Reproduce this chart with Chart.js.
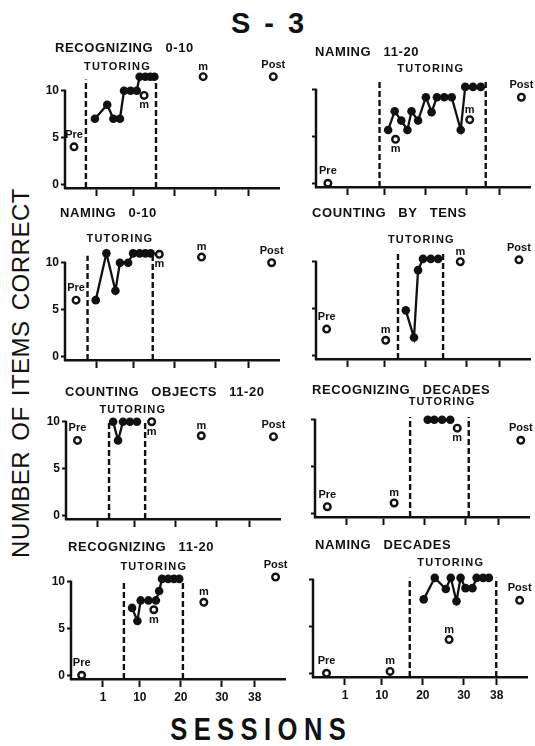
<!DOCTYPE html>
<html>
<head>
<meta charset="utf-8">
<title>S-3</title>
<script src="https://cdn.jsdelivr.net/npm/chart.js@4.4.1/dist/chart.umd.min.js"></script>
<style>
  html, body { margin: 0; padding: 0; background: #fff; }
  body { position: relative; width: 535px; height: 746px; overflow: hidden; font-family: 'Liberation Sans', Arial, sans-serif; color: #111; }
  canvas { position: absolute; }
  #heading { position: absolute; left: 0; width: 535px; top: 9px; text-align: center; font-weight: bold; font-size: 29px; line-height: 29px; letter-spacing: 3px; padding-left: 3px; box-sizing: border-box; }
  #ylabel { position: absolute; left: 21px; top: 373px; width: 440px; height: 24px; margin-left: -220px; margin-top: -12px; line-height: 24px; font-size: 24px; text-align: center; white-space: nowrap; letter-spacing: 0.5px; word-spacing: 3px; transform: rotate(-90deg); }
  #xlabel { position: absolute; left: 258px; top: 713px; width: 300px; margin-left: -150px; text-align: center; font-weight: bold; font-size: 32px; line-height: 32px; letter-spacing: 8px; padding-left: 8px; box-sizing: border-box; transform: scaleX(0.8); }
</style>
</head>
<body>
<div id="heading">S - 3</div>
<div id="ylabel">NUMBER OF ITEMS CORRECT</div>
<div id="xlabel">SESSIONS</div>
<script>
const ink = '#111';
const FONT = "'Liberation Sans', Arial, sans-serif";

// axis ticks shared by every panel
const sessionTicks = [1, 10, 20, 30, 38];
const scoreTicks = [0, 5, 10];

// panels in reading order: left/right, top to bottom
const panelTitles = [
    'RECOGNIZING 0-10', 'NAMING 11-20',
    'NAMING 0-10', 'COUNTING BY TENS',
    'COUNTING OBJECTS 11-20', 'RECOGNIZING DECADES',
    'RECOGNIZING 11-20', 'NAMING DECADES'
];

// tutoring sessions (filled dots joined by a line)
const tutorSessions = [
    [0.5, 3.5, 5.0, 6.6, 7.6, 9.2, 10.7, 11.4, 12.8, 14.0, 15.0],
    [10.8, 12.4, 14.0, 15.5, 16.5, 18.1, 20.0, 21.4, 22.7, 24.5, 26.3, 28.5, 29.6, 31.5, 33.4],
    [0.7, 3.3, 5.5, 6.6, 8.6, 9.8, 11.4, 12.8, 14.1],
    [15.1, 17.1, 18.1, 19.3, 21.2, 23.0],
    [4.7, 5.9, 7.1, 8.8, 10.5],
    [20.7, 22.3, 24.2, 26.2],
    [8.1, 9.4, 10.2, 12.1, 13.9, 14.7, 15.4, 16.9, 18.3, 19.6],
    [20.2, 22.9, 25.6, 26.8, 28.2, 29.2, 30.4, 32.1, 33.1, 34.7, 36.1]
];
const tutorScores = [
    [7, 8.5, 7, 7, 10, 10, 10, 11.5, 11.5, 11.5, 11.5],
    [5.7, 7.7, 6.7, 5.7, 7.7, 6.7, 9.2, 7.6, 9.2, 9.2, 9.2, 5.7, 10.3, 10.3, 10.3],
    [6, 11, 7, 10, 10, 11, 11, 11, 11],
    [4.8, 1.9, 9.1, 10.3, 10.3, 10.3],
    [10, 8, 10, 10, 10],
    [10, 10, 10, 10],
    [7.2, 5.8, 8, 8, 8, 9, 10.3, 10.3, 10.3, 10.3],
    [7.9, 10.2, 9, 10.2, 7.7, 10.2, 9.1, 9.1, 10.2, 10.2, 10.2]
];

// probes: pretest, two maintenance checks, posttest (open circles)
const probeNames = ['Pre', 'm', 'm', 'Post'];
const probeSessions = [
    [-4.6, 12.5, 26.9, 44.0],
    [-3.9, 12.6, 30.7, 43.3],
    [-4.1, 16.2, 26.5, 43.6],
    [-4.2, 10.2, 28.4, 42.7],
    [-4.0, 14.1, 26.2, 43.8],
    [-3.8, 12.5, 27.9, 43.4],
    [-4.2, 13.4, 25.6, 43.1],
    [-3.5, 12.0, 26.4, 43.6]
];
const probeScores = [
    [4, 9.5, 11.5, 11.5],
    [0, 4.7, 6.8, 9.2],
    [6, 10.9, 10.6, 10],
    [2.8, 1.6, 10, 10.2],
    [8, 10, 8.5, 8.4],
    [0.7, 1.1, 9.1, 7.8],
    [0, 7, 7.8, 10.5],
    [0, 0.2, 3.6, 7.8]
];

// tutoring phase limits (dashed lines)
const phaseStart = [-1.7, 8.7, -1.3, 13.2, 3.7, 16.4, 6.1, 16.8];
const phaseEnd = [15.4, 34.6, 14.6, 24.2, 12.5, 30.7, 20.5, 37.9];

// page layout of each panel: axis = left edge of plot, zero = pixel row of score 0
const boxes = [
    {axis: 65, zero: 184, titleX: 55, titleUp: 136, dashTop: 11.2, tutorAt: [6.0, 12.5], below: [1]},
    {axis: 316, zero: 183, titleX: 315, titleUp: 131, dashTop: 10.9, tutorAt: [21.2, 12.2], below: [1]},
    {axis: 65, zero: 356, titleX: 60, titleUp: 143, dashTop: 10.75, tutorAt: [6.6, 12.5], below: [1]},
    {axis: 316, zero: 355, titleX: 312, titleUp: 142, dashTop: 11.1, tutorAt: [18.9, 12.3], below: []},
    {axis: 66, zero: 515, titleX: 65, titleUp: 123, dashTop: 9.9, tutorAt: [9.5, 11.3], below: [1]},
    {axis: 315, zero: 513, titleX: 312, titleUp: 123, dashTop: 10.3, tutorAt: [24.2, 11.9], below: [2]},
    {axis: 71, zero: 675, titleX: 68, titleUp: 128, dashTop: 10, tutorAt: [13.4, 11.6], below: [1]},
    {axis: 313, zero: 673, titleX: 315, titleUp: 128, dashTop: 10.2, tutorAt: [26.8, 11.8], below: []}
];

const X_MIN = -6.8, X_MAX = 45.4, Y_MIN = -0.4, Y_MAX = 12;
const CW = 252, CH = 184, PAD_TOP = 40, Y_W = 30, X_H = 28, PLOT_W = 214;
const zeroOffset = PAD_TOP + Y_MAX * (CH - PAD_TOP - X_H) / (Y_MAX - Y_MIN);

// y axis line, text labels and panel title
const overlay = {
    id: 'overlay',
    afterDatasetsDraw(chart, args, o) {
        const {ctx, chartArea: a, scales: {x, y}} = chart;
        const i = o.idx, b = boxes[i];
        ctx.save();
        ctx.fillStyle = ink;
        ctx.strokeStyle = ink;
        ctx.lineWidth = 2.5;
        ctx.beginPath();
        ctx.moveTo(a.left, a.bottom + 1);
        ctx.lineTo(a.left, y.getPixelForValue(10) - 1);
        ctx.stroke();

        ctx.textAlign = 'center';
        ctx.textBaseline = 'middle';
        probeSessions[i].forEach((s, j) => {
            const name = probeNames[j];
            const px = x.getPixelForValue(s), py = y.getPixelForValue(probeScores[i][j]);
            ctx.font = (name === 'm' ? 'bold 11px ' : 'bold 11px ') + FONT;
            let dy = name === 'm' ? -10 : -12;
            if (b.below.includes(j)) dy = 10;
            ctx.fillText(name, px, py + dy);
        });

        ctx.font = 'bold 11px ' + FONT;
        if ('letterSpacing' in ctx) ctx.letterSpacing = '1.2px';
        ctx.fillText('TUTORING', x.getPixelForValue(b.tutorAt[0]), y.getPixelForValue(b.tutorAt[1]));

        ctx.textAlign = 'left';
        ctx.font = 'bold 13px ' + FONT;
        if ('letterSpacing' in ctx) ctx.letterSpacing = '0.6px';
        if ('wordSpacing' in ctx) ctx.wordSpacing = '8px';
        ctx.fillText(panelTitles[i], b.titleX - (b.axis - Y_W), y.getPixelForValue(0) - b.titleUp);
        ctx.restore();
    }
};

boxes.forEach((b, i) => {
    const cv = document.createElement('canvas');
    cv.width = CW;
    cv.height = CH;
    cv.style.left = (b.axis - Y_W) + 'px';
    cv.style.top = Math.round(b.zero - zeroOffset) + 'px';
    document.body.appendChild(cv);

    const showX = i >= 6, showY = i % 2 === 0;
    const tickFont = {family: FONT, size: 12, weight: 'bold'};

    new Chart(cv.getContext('2d'), {
        type: 'line',
        data: {
            datasets: [
                {
                    data: probeSessions[i].map((s, j) => ({x: s, y: probeScores[i][j]})),
                    showLine: false, clip: false,
                    pointRadius: 3.3, pointBorderWidth: 2.4,
                    pointBackgroundColor: '#fff', pointBorderColor: ink
                },
                {
                    data: tutorSessions[i].map((s, j) => ({x: s, y: tutorScores[i][j]})),
                    borderColor: ink, borderWidth: 2.3, clip: false,
                    pointRadius: 4.3, pointBorderWidth: 0, pointBackgroundColor: ink
                },
                {
                    data: [{x: phaseStart[i], y: Y_MIN}, {x: phaseStart[i], y: b.dashTop}],
                    borderColor: ink, borderWidth: 2.4, borderDash: [6, 3], pointRadius: 0, clip: false
                },
                {
                    data: [{x: phaseEnd[i], y: Y_MIN}, {x: phaseEnd[i], y: b.dashTop}],
                    borderColor: ink, borderWidth: 2.4, borderDash: [6, 3], pointRadius: 0, clip: false
                }
            ]
        },
        options: {
            responsive: false,
            animation: false,
            events: [],
            layout: {padding: {top: PAD_TOP, right: CW - Y_W - PLOT_W, left: 0, bottom: 0}},
            plugins: {legend: {display: false}, tooltip: {enabled: false}, overlay: {idx: i}},
            scales: {
                x: {
                    type: 'linear', min: X_MIN, max: X_MAX,
                    afterBuildTicks: s => { s.ticks = sessionTicks.map(v => ({value: v})); },
                    afterFit: s => { s.height = X_H; },
                    grid: {drawOnChartArea: false, tickLength: 8, tickWidth: 2, tickColor: ink},
                    border: {display: true, color: ink, width: 2.5},
                    ticks: {autoSkip: false, maxRotation: 0, padding: 3, color: ink, font: tickFont,
                        callback: v => showX ? String(v) : ''}
                },
                y: {
                    type: 'linear', min: Y_MIN, max: Y_MAX,
                    afterBuildTicks: s => { s.ticks = scoreTicks.map(v => ({value: v})); },
                    afterFit: s => { s.width = Y_W; },
                    grid: {drawOnChartArea: false, tickLength: 4, tickWidth: 2, tickColor: ink},
                    border: {display: false},
                    ticks: {autoSkip: false, padding: 2, color: ink, font: tickFont,
                        callback: v => showY ? String(v) : ''}
                }
            }
        },
        plugins: [overlay]
    });
});
</script>
</body>
</html>
